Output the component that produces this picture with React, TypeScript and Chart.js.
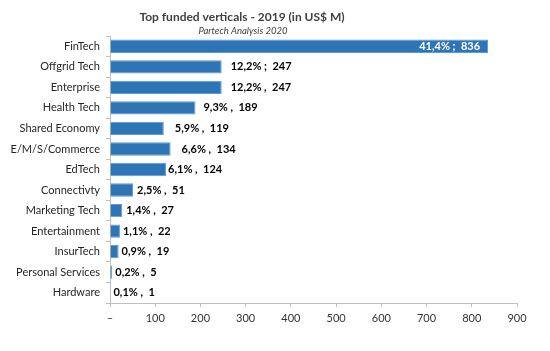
import React, { useEffect, useRef } from "react";
import { Chart, registerables } from "chart.js";

Chart.register(...registerables);

const categories = [
  "FinTech",
  "Offgrid Tech",
  "Enterprise",
  "Health Tech",
  "Shared Economy",
  "E/M/S/Commerce",
  "EdTech",
  "Connectivty",
  "Marketing Tech",
  "Entertainment",
  "InsurTech",
  "Personal Services",
  "Hardware",
];
const values = [836, 247, 247, 189, 119, 134, 124, 51, 27, 22, 19, 5, 1];
const shares = ["41,4%", "12,2%", "12,2%", "9,3%", "5,9%", "6,6%", "6,1%", "2,5%", "1,4%", "1,1%", "0,9%", "0,2%", "0,1%"];
const separators = [";", ";", ",", ",", ",", ",", ",", ",", ",", ",", ",", ",", ","];
const xTickValues = [0, 100, 200, 300, 400, 500, 600, 700, 800, 900];

const titleText = "Top funded verticals - 2019 (in US$ M)";
const subtitleText = "Partech Analysis 2020";

// label gap from bar end (style only)
const labelGap = [8, 9, 9, 8, 11, 11, 2, 4, 4, 3, 3, 3, 3];

const FONT = "Lato, 'Open Sans', sans-serif";

export default function App() {
  const ref = useRef<HTMLCanvasElement | null>(null);

  useEffect(() => {
    const canvas = ref.current;
    if (!canvas) return;

    const labelPlugin = {
      id: "barLabels",
      afterDatasetsDraw(chart: any) {
        const ctx = chart.ctx;
        const meta = chart.getDatasetMeta(0);
        ctx.save();
        ctx.font = `bold 11px ${FONT}`;
        ctx.textBaseline = "middle";
        meta.data.forEach((bar: any, i: number) => {
          const text = `${shares[i]} ${separators[i]}  ${values[i]}`;
          if (i === 0) {
            ctx.fillStyle = "#ffffff";
            ctx.textAlign = "right";
            ctx.fillText(text, bar.x - labelGap[i], bar.y);
          } else {
            ctx.fillStyle = "#000000";
            ctx.textAlign = "left";
            ctx.fillText(text, bar.x + labelGap[i], bar.y);
          }
        });
        ctx.restore();
      },
    };

    const titlePlugin = {
      id: "customTitle",
      afterDraw(chart: any) {
        const ctx = chart.ctx;
        ctx.save();
        ctx.textAlign = "center";
        ctx.textBaseline = "middle";
        ctx.fillStyle = "#404040";
        ctx.font = `bold 12px ${FONT}`;
        ctx.fillText(titleText, 242, 17);
        ctx.font = `italic 9.5px ${FONT}`;
        ctx.fillStyle = "#404040";
        ctx.fillText(subtitleText, 243, 31);
        ctx.restore();
      },
    };

    const chart = new Chart(canvas, {
      type: "bar",
      data: {
        labels: categories,
        datasets: [
          {
            data: values,
            backgroundColor: "#2E75B6",
            borderColor: "#5B9BD5",
            borderWidth: 1,
            barPercentage: 0.65,
            categoryPercentage: 1,
          },
        ],
      },
      options: {
        indexAxis: "y",
        responsive: false,
        animation: false,
        devicePixelRatio: 1,
        layout: { padding: { left: 0, top: 36, right: 33, bottom: 0 } },
        plugins: {
          legend: { display: false },
          title: { display: false },
          tooltip: { enabled: false },
        },
        scales: {
          x: {
            type: "linear",
            min: 0,
            max: 900,
            afterBuildTicks(scale: any) {
              scale.ticks = xTickValues.map((v) => ({ value: v }));
            },
            afterFit(scale: any) {
              scale.height = 48;
            },
            grid: {
              drawOnChartArea: false,
              drawTicks: true,
              tickLength: 4,
              color: "#BFBFBF",
            },
            border: { display: true, color: "#BFBFBF" },
            ticks: {
              padding: 5,
              color: "#333333",
              font: { family: FONT, size: 11 },
              callback: (v: any) => (Number(v) === 0 ? "–" : String(v)),
            },
          },
          y: {
            afterFit(scale: any) {
              scale.width = 110;
            },
            grid: {
              drawOnChartArea: false,
              drawTicks: true,
              tickLength: 4,
              color: "#BFBFBF",
              offset: true,
            },
            border: { display: true, color: "#BFBFBF" },
            ticks: {
              padding: 6,
              color: "#262626",
              font: { family: FONT, size: 11 },
            },
          },
        },
      },
      plugins: [labelPlugin, titlePlugin],
    });

    return () => chart.destroy();
  }, []);

  return (
    <div style={{ position: "fixed", left: 0, top: 0, width: 550, height: 351, background: "#fff" }}>
      <canvas ref={ref} width={550} height={351} style={{ display: "block" }} />
    </div>
  );
}
